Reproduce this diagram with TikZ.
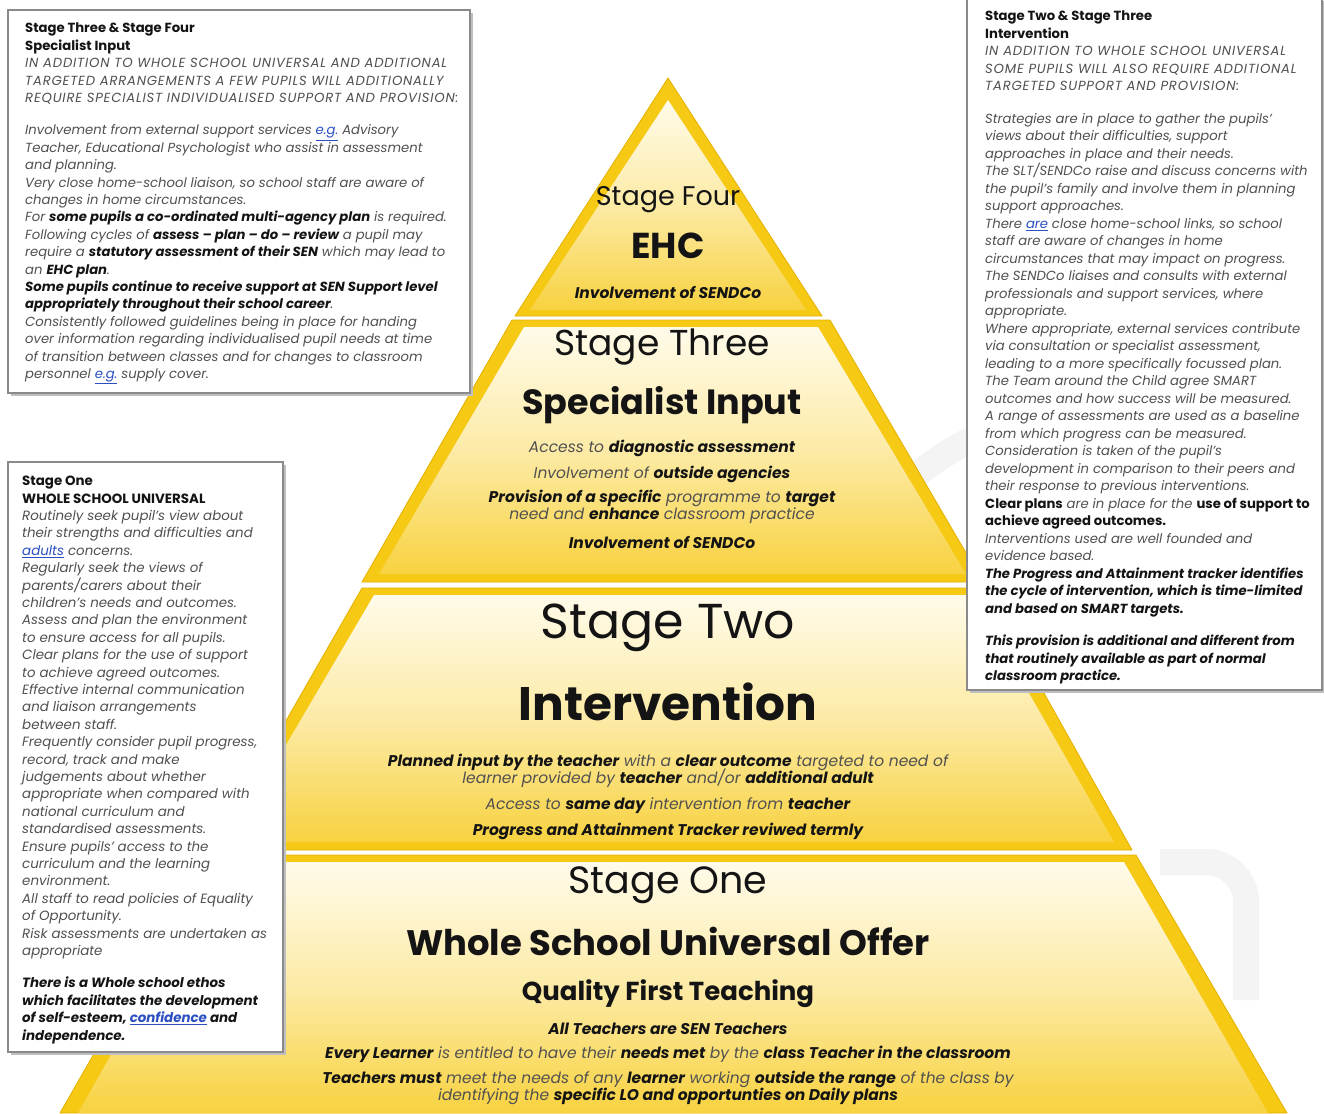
\documentclass[tikz,border=0pt]{standalone}
\usepackage{fontspec}
\setmainfont{Poppins}
\definecolor{rim}{HTML}{F6C915}
\definecolor{rimdark}{HTML}{E2B100}
\definecolor{inlight}{HTML}{FFFBEA}
\definecolor{indark}{HTML}{F8D240}
\definecolor{txtdark}{HTML}{141414}
\definecolor{txtgray}{HTML}{505050}
\definecolor{linkblue}{HTML}{2B4FC0}
\definecolor{boxline}{HTML}{8A8A8A}
\definecolor{ghost}{HTML}{F4F4F4}
\newcommand{\hb}[1]{{\bfseries\color{txtdark}#1}}
\newcommand{\lnk}[1]{\textcolor{linkblue}{\underline{#1}}}
\newcommand{\capsline}[1]{{\addfontfeature{LetterSpace=6}#1}}
\newcommand{\tightlines}{\setlength{\lineskiplimit}{-20pt}}
\tikzset{
  rimfill/.style={fill=rim, draw=rimdark, line width=0.8pt},
  innershade/.style={top color=inlight, bottom color=indark, middle color=inlight!60!indark},
  head/.style={inner sep=0pt, text=txtdark},
  small/.style={inner sep=0pt, text=txtgray, align=center, font=\fontsize{15.5}{16.5}\selectfont\itshape\tightlines},
  infobox/.style={fill=white, draw=boxline, line width=1.3pt},
  boxshadow/.style={fill=black!25},
  boxtext/.style={inner sep=0pt, anchor=north west, align=left, text=txtgray, font=\fontsize{13.2}{17.4}\selectfont\itshape}
}
\begin{document}
\begin{tikzpicture}[x=1pt,y=-1pt]
\useasboundingbox (0,0) rectangle (1324,1113);
\fill[white] (0,0) rectangle (1324,1113);

% faint background watermark
\draw[ghost, line width=26pt, line cap=round] (885,505) .. controls (930,455) and (990,425) .. (1060,405);
\draw[ghost, line width=26pt, rounded corners=40pt] (1160,862) -- (1246,862) -- (1246,1000);

% ---------- pyramid layers ----------
% stage four
\filldraw[rimfill] (668,78) -- (822,316) -- (515,316) -- cycle;
\shade[innershade] (668,100) -- (806,310) -- (530,310) -- cycle;
% stage three
\filldraw[rimfill] (512,320) -- (830,320) -- (983,582) -- (362,582) -- cycle;
\shade[innershade] (524,327) -- (818,327) -- (966,574) -- (379,574) -- cycle;
% stage two
\filldraw[rimfill] (362,588) -- (985,588) -- (1132,850) -- (212,850) -- cycle;
\shade[innershade] (374,595) -- (973,595) -- (1114,842) -- (229,842) -- cycle;
% stage one
\filldraw[rimfill] (208,855) -- (1136,855) -- (1287,1113) -- (60,1113) -- cycle;
\shade[innershade] (220,862) -- (1124,862) -- (1268,1113) -- (78,1113) -- cycle;

% ---------- pyramid texts ----------
\node[head, font=\fontsize{27}{30}\selectfont] (s4a) at (668,200) {Stage Four};
\node[head, font=\fontsize{36}{40}\selectfont\bfseries] (s4b) at (668,246) {EHC};
\node[small] (s4c) at (668,292) {\hb{Involvement of SENDCo}};

\node[head, font=\fontsize{36}{40}\selectfont] (s3a) at (662,347) {Stage Three};
\node[head, font=\fontsize{35}{40}\selectfont\bfseries] (s3b) at (662,405) {Specialist Input};
\node[small] (s3c) at (662,448) {Access to \hb{diagnostic assessment}};
\node[small] (s3d) at (662,474) {Involvement of \hb{outside agencies}};
\node[small] (s3e) at (662,507) {\hb{Provision of a specific} programme to \hb{target}\\ need and \hb{enhance} classroom practice};
\node[small] (s3f) at (662,542) {\hb{Involvement of SENDCo}};

\node[head, font=\fontsize{49}{52}\selectfont] (s2a) at (668,628) {Stage Two};
\node[head, font=\fontsize{47}{50}\selectfont\bfseries] (s2b) at (668,702) {Intervention};
\node[small] (s2c) at (668,771) {\hb{Planned input by the teacher} with a \hb{clear outcome} targeted to need of\\ learner provided by \hb{teacher} and/or \hb{additional adult}};
\node[small] (s2d) at (668,806) {Access to \hb{same day} intervention from \hb{teacher}};
\node[small] (s2e) at (668,831) {\hb{Progress and Attainment Tracker reviwed termly}};

\node[head, font=\fontsize{38}{40}\selectfont] (s1a) at (668,885) {Stage One};
\node[head, font=\fontsize{35.4}{38}\selectfont\bfseries] (s1b) at (668,941) {Whole School Universal Offer};
\node[head, font=\fontsize{26}{30}\selectfont\bfseries] (s1c) at (668,994) {Quality First Teaching};
\node[small] (s1d) at (668,1029) {\hb{All Teachers are SEN Teachers}};
\node[small] (s1e) at (668,1054) {\hb{Every Learner} is entitled to have their \hb{needs met} by the \hb{class Teacher in the classroom}};
\node[small, font=\fontsize{15.5}{17.5}\selectfont\itshape\tightlines] (s1f) at (668,1088) {\hb{Teachers must} meet the needs of any \hb{learner} working \hb{outside the range} of the class by\\ identifying the \hb{specific LO and opportunties on Daily plans}};

% ---------- info boxes ----------
% top-left
\fill[boxshadow] (11,13) rectangle (473,396);
\filldraw[infobox] (8,10) rectangle (470,393);
\node[boxtext] (tl) at (25,23) {%
\hb{\upshape Stage Three \& Stage Four}\\
\hb{\upshape Specialist Input}\\
\capsline{IN ADDITION TO WHOLE SCHOOL UNIVERSAL AND ADDITIONAL}\\
\capsline{TARGETED ARRANGEMENTS A FEW PUPILS WILL ADDITIONALLY}\\
\capsline{REQUIRE SPECIALIST INDIVIDUALISED SUPPORT AND PROVISION:}\\[15pt]
Involvement from external support services \lnk{e.g.} Advisory\\
Teacher, Educational Psychologist who assist in assessment\\
and planning.\\
Very close home-school liaison, so school staff are aware of\\
changes in home circumstances.\\
For \hb{some pupils a co-ordinated multi-agency plan} is required.\\
Following cycles of \hb{assess -- plan -- do -- review} a pupil may\\
require a \hb{statutory assessment of their SEN} which may lead to\\
an \hb{EHC plan}.\\
\hb{Some pupils continue to receive support at SEN Support level}\\
\hb{appropriately throughout their school career}.\\
Consistently followed guidelines being in place for handing\\
over information regarding individualised pupil needs at time\\
of transition between classes and for changes to classroom\\
personnel \lnk{e.g.} supply cover.};

% right
\fill[boxshadow] (970,1) rectangle (1325,693);
\filldraw[infobox] (967,-2) rectangle (1322,690);
\node[boxtext, font=\fontsize{13.2}{17.5}\selectfont\itshape] (rt) at (985,11) {%
\hb{\upshape Stage Two \& Stage Three}\\
\hb{\upshape Intervention}\\
\capsline{IN ADDITION TO WHOLE SCHOOL UNIVERSAL}\\
\capsline{SOME PUPILS WILL ALSO REQUIRE ADDITIONAL}\\
\capsline{TARGETED SUPPORT AND PROVISION:}\\[15pt]
Strategies are in place to gather the pupils'\\
views about their difficulties, support\\
approaches in place and their needs.\\
The SLT/SENDCo raise and discuss concerns with\\
the pupil's family and involve them in planning\\
support approaches.\\
There \lnk{are} close home-school links, so school\\
staff are aware of changes in home\\
circumstances that may impact on progress.\\
The SENDCo liaises and consults with external\\
professionals and support services, where\\
appropriate.\\
Where appropriate, external services contribute\\
via consultation or specialist assessment,\\
leading to a more specifically focussed plan.\\
The Team around the Child agree SMART\\
outcomes and how success will be measured.\\
A range of assessments are used as a baseline\\
from which progress can be measured.\\
Consideration is taken of the pupil's\\
development in comparison to their peers and\\
their response to previous interventions.\\
\hb{\upshape Clear plans} are in place for the \hb{\upshape use of support to}\\
\hb{\upshape achieve agreed outcomes.}\\
Interventions used are well founded and\\
evidence based.\\
\hb{The Progress and Attainment tracker identifies}\\
\hb{the cycle of intervention, which is time-limited}\\
\hb{and based on SMART targets.}\\[15pt]
\hb{This provision is additional and different from}\\
\hb{that routinely available as part of normal}\\
\hb{classroom practice.}};

% left
\fill[boxshadow] (11,465) rectangle (286,1055);
\filldraw[infobox] (8,462) rectangle (283,1052);
\node[boxtext, font=\fontsize{13.4}{17.4}\selectfont\itshape] (lt) at (22,476) {%
\hb{\upshape Stage One}\\
\hb{\upshape WHOLE SCHOOL UNIVERSAL}\\
Routinely seek pupil's view about\\
their strengths and difficulties and\\
\lnk{adults} concerns.\\
Regularly seek the views of\\
parents/carers about their\\
children's needs and outcomes.\\
Assess and plan the environment\\
to ensure access for all pupils.\\
Clear plans for the use of support\\
to achieve agreed outcomes.\\
Effective internal communication\\
and liaison arrangements\\
between staff.\\
Frequently consider pupil progress,\\
record, track and make\\
judgements about whether\\
appropriate when compared with\\
national curriculum and\\
standardised assessments.\\
Ensure pupils' access to the\\
curriculum and the learning\\
environment.\\
All staff to read policies of Equality\\
of Opportunity.\\
Risk assessments are undertaken as\\
appropriate\\[15pt]
\hb{There is a Whole school ethos}\\
\hb{which facilitates the development}\\
\hb{of self-esteem, \lnk{confidence} and}\\
\hb{independence.}};
\end{tikzpicture}
\end{document}
